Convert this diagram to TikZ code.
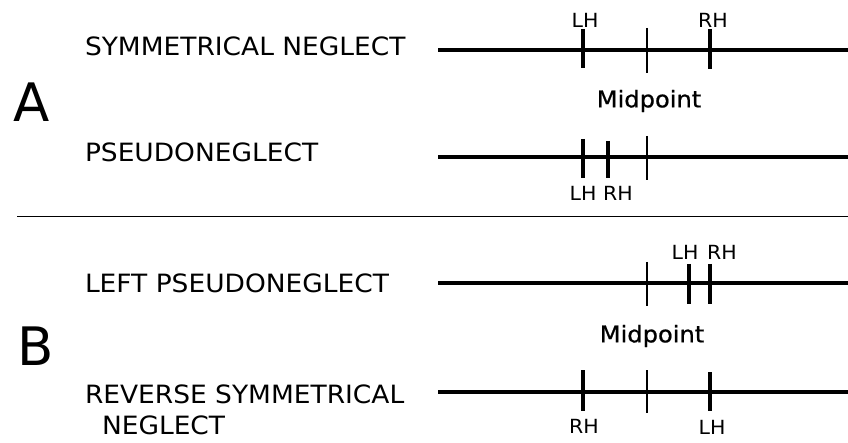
\documentclass[tikz,border=0pt]{standalone}
\usepackage{fontspec}
\setmainfont{DejaVu Sans}
\newfontfamily\midfont[FakeBold=0.7]{DejaVu Sans}
\newcommand{\wide}[1]{\scalebox{1.05}[1]{#1}}
\begin{document}
\begin{tikzpicture}[x=1pt,y=-1pt,
  every node/.style={inner sep=0pt,outer sep=0pt},
  biglabel/.style={font=\fontsize{53}{53}\selectfont},
  rowlabel/.style={anchor=west,font=\fontsize{25.2}{28}\selectfont},
  handlabel/.style={font=\fontsize{19.5}{22}\selectfont},
  midlabel/.style={font=\midfont\fontsize{23}{25}\selectfont},
  scale line/.style={line width=3.4pt},
  handtick/.style={line width=3.4pt},
  midtick/.style={line width=1.2pt},
  divider/.style={line width=1pt}]
\useasboundingbox (0,0) rectangle (848,443);
% big letters
\node[biglabel] (A) at (32,102) {A};
\node[biglabel] (B) at (36,346) {B};
% row labels
\node[rowlabel] (sym) at (85,46) {\wide{SYMMETRICAL NEGLECT}};
\node[rowlabel] (pseudo) at (85,152) {\wide{PSEUDONEGLECT}};
\node[rowlabel] (left) at (85,283) {\wide{LEFT PSEUDONEGLECT}};
\node[rowlabel] (rev1) at (85,394) {\wide{REVERSE SYMMETRICAL}};
\node[rowlabel] (rev2) at (102,425) {\wide{NEGLECT}};
% divider
\coordinate (d1) at (17,217);
\coordinate (d2) at (848,217);
\draw[divider] (d1) -- (d2);
% midpoint labels
\node[midlabel] (mid1) at (649,101) {\wide{Midpoint}};
\node[midlabel] (mid2) at (652,336) {\wide{Midpoint}};
% row 1
\coordinate (l1a) at (438,50); \coordinate (l1b) at (848,50);
\draw[scale line] (l1a) -- (l1b);
\coordinate (t1a) at (583,29); \coordinate (t1b) at (583,68);
\draw[handtick] (t1a) -- (t1b);
\coordinate (m1a) at (647,28); \coordinate (m1b) at (647,73);
\draw[midtick] (m1a) -- (m1b);
\coordinate (t1c) at (710,29); \coordinate (t1d) at (710,69);
\draw[handtick] (t1c) -- (t1d);
\node[handlabel] (lh1) at (585,20) {\wide{LH}};
\node[handlabel] (rh1) at (713,20) {\wide{RH}};
% row 2
\coordinate (l2a) at (438,157); \coordinate (l2b) at (848,157);
\draw[scale line] (l2a) -- (l2b);
\coordinate (t2a) at (583,139); \coordinate (t2b) at (583,178);
\draw[handtick] (t2a) -- (t2b);
\coordinate (t2c) at (608,141); \coordinate (t2d) at (608,178);
\draw[handtick] (t2c) -- (t2d);
\coordinate (m2a) at (647,136); \coordinate (m2b) at (647,180);
\draw[midtick] (m2a) -- (m2b);
\node[handlabel] (lh2) at (583,193) {\wide{LH}};
\node[handlabel] (rh2) at (618,193) {\wide{RH}};
% row 3
\coordinate (l3a) at (438,283); \coordinate (l3b) at (848,283);
\draw[scale line] (l3a) -- (l3b);
\coordinate (m3a) at (647,262); \coordinate (m3b) at (647,306);
\draw[midtick] (m3a) -- (m3b);
\coordinate (t3a) at (689,264); \coordinate (t3b) at (689,304);
\draw[handtick] (t3a) -- (t3b);
\coordinate (t3c) at (710,264); \coordinate (t3d) at (710,304);
\draw[handtick] (t3c) -- (t3d);
\node[handlabel] (lh3) at (685,252) {\wide{LH}};
\node[handlabel] (rh3) at (722,252) {\wide{RH}};
% row 4
\coordinate (l4a) at (438,392); \coordinate (l4b) at (848,392);
\draw[scale line] (l4a) -- (l4b);
\coordinate (t4a) at (583,370); \coordinate (t4b) at (583,411);
\draw[handtick] (t4a) -- (t4b);
\coordinate (m4a) at (647,370); \coordinate (m4b) at (647,413);
\draw[midtick] (m4a) -- (m4b);
\coordinate (t4c) at (710,372); \coordinate (t4d) at (710,411);
\draw[handtick] (t4c) -- (t4d);
\node[handlabel] (rh4) at (584,426) {\wide{RH}};
\node[handlabel] (lh4) at (712,427) {\wide{LH}};
\end{tikzpicture}
\end{document}
